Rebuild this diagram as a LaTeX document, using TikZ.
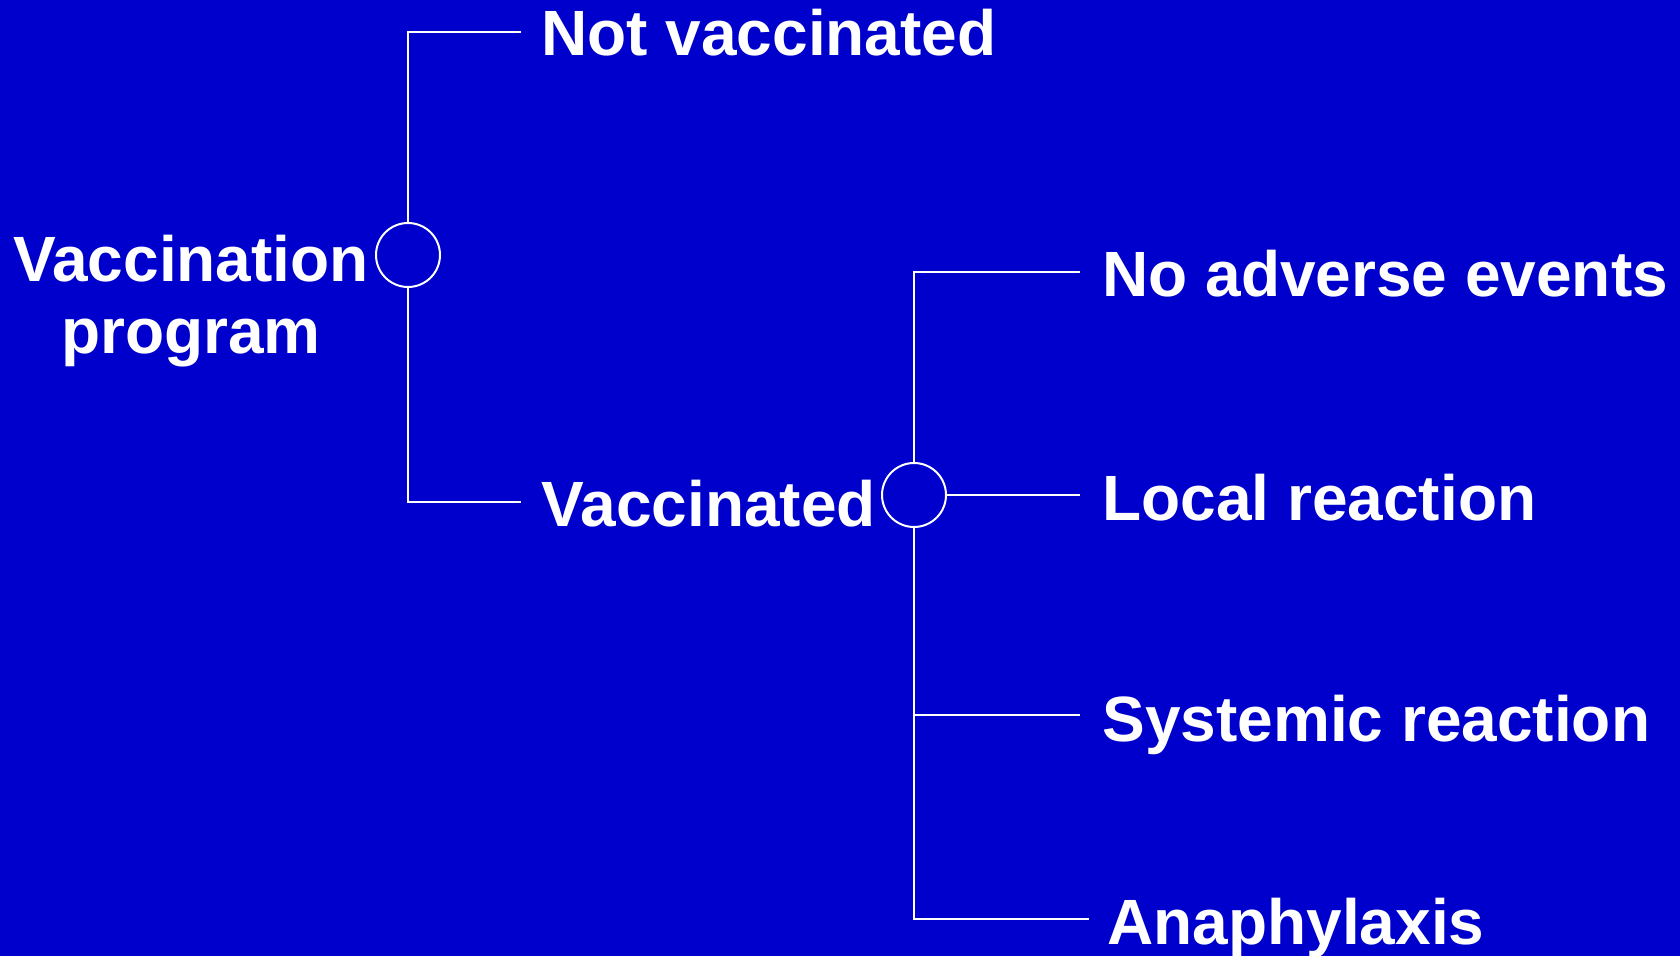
\documentclass[tikz,border=0pt]{standalone}
\usepackage{fontspec}
\setmainfont{Liberation Sans}
\definecolor{slideblue}{RGB}{0,0,204}
\begin{document}
\begin{tikzpicture}[x=0.5pt,y=-0.5pt,
  link/.style={draw=white,line width=1pt},
  chance/.style={circle,draw=white,line width=1pt,inner sep=0pt,minimum size=32pt},
  label/.style={text=white,inner sep=0pt,font=\fontsize{32pt}{36pt}\selectfont\bfseries}]
  % background panel fixes the page size
  \fill[slideblue] (0,0) rectangle (1680,956);
  \useasboundingbox (0,0) rectangle (1680,956);

  % chance nodes
  \node[chance] (c1) at (408,255) {};
  \node[chance] (c2) at (914,495) {};

  % labels (the two-line label is anchored on its last baseline)
  \node[label,anchor=base,align=center] (root) at (191,354) {Vaccination\\program};
  \node[label,anchor=base west] (nv) at (541,56) {Not vaccinated};
  \node[label,anchor=base west] (vac) at (541,527) {Vaccinated};
  \node[label,anchor=base west] (nae) at (1102,297) {No adverse events};
  \node[label,anchor=base west] (loc) at (1102,521) {Local reaction};
  \node[label,anchor=base west] (sys) at (1102,741) {Systemic reaction};
  \node[label,anchor=base west] (ana) at (1107,944) {Anaphylaxis};

  % branch ends
  \coordinate (nvE) at (521,32);
  \coordinate (vacE) at (521,502);
  \coordinate (naeE) at (1080,272);
  \coordinate (locE) at (1080,495);
  \coordinate (sysE) at (1080,715);
  \coordinate (anaE) at (1089,919);

  % branches
  \draw[link] (c1.north) |- (nvE);
  \draw[link] (c1.south) |- (vacE);
  \draw[link] (c2.north) |- (naeE);
  \draw[link] (c2.east) -- (locE);
  \draw[link] (c2.south) |- (sysE);
  \draw[link] (c2.south) |- (anaE);
\end{tikzpicture}
\end{document}
